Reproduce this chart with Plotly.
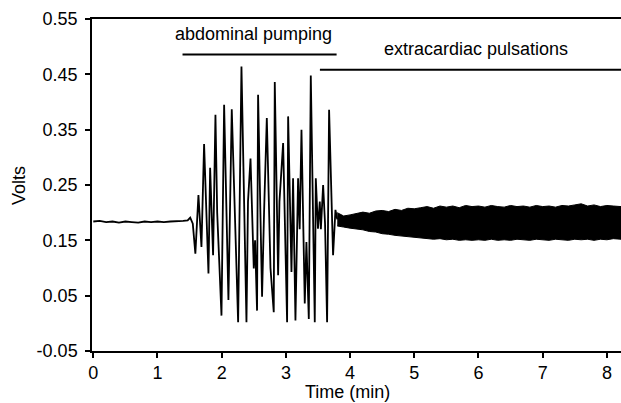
import plotly.graph_objects as go

# ---- data ----
# resting baseline (time in min, volts)
base_t = [0.0, 0.1, 0.2, 0.3, 0.4, 0.5, 0.6, 0.7, 0.8, 0.9, 1.0, 1.1, 1.2, 1.3, 1.4, 1.47, 1.51]
base_v = [0.184, 0.185, 0.183, 0.184, 0.182, 0.184, 0.183, 0.182, 0.184, 0.183, 0.184, 0.183, 0.184, 0.184, 0.185, 0.186, 0.191]

# abdominal pumping oscillation (peaks / troughs)
pump_t = [1.55, 1.59, 1.638, 1.685, 1.726, 1.794, 1.82, 1.866, 1.903, 1.93, 1.997, 2.038, 2.105, 2.13,
          2.157, 2.256, 2.308, 2.386, 2.41, 2.449, 2.50, 2.52, 2.551, 2.567, 2.629, 2.66, 2.703, 2.76,
          2.811, 2.827, 2.879, 2.90, 2.957, 3.019, 3.035, 3.087, 3.112, 3.149, 3.19, 3.215, 3.243,
          3.294, 3.32, 3.357, 3.388, 3.45, 3.466, 3.50, 3.528, 3.545, 3.58, 3.61, 3.642, 3.673,
          3.735, 3.772, 3.80]
pump_v = [0.180, 0.126, 0.232, 0.138, 0.324, 0.090, 0.281, 0.123, 0.377, 0.200, 0.014, 0.395, 0.042, 0.180,
          0.387, 0.002, 0.464, 0.002, 0.220, 0.298, 0.099, 0.150, 0.023, 0.413, 0.048, 0.200, 0.371, 0.100,
          0.020, 0.436, 0.087, 0.220, 0.326, 0.002, 0.374, 0.093, 0.262, 0.005, 0.262, 0.170, 0.350,
          0.036, 0.147, 0.008, 0.448, 0.002, 0.262, 0.171, 0.220, 0.170, 0.250, 0.180, 0.002, 0.386,
          0.123, 0.205, 0.188]

# extracardiac pulsations: upper / lower envelope of the dense trace
puls_t = [3.8, 3.9, 4.0, 4.1, 4.2, 4.3, 4.4, 4.5, 4.6, 4.7, 4.8, 4.9, 5.0, 5.1, 5.2, 5.3, 5.4, 5.5,
          5.6, 5.7, 5.8, 5.9, 6.0, 6.1, 6.2, 6.3, 6.4, 6.5, 6.6, 6.7, 6.8, 6.9, 7.0, 7.1, 7.2, 7.3,
          7.4, 7.5, 7.6, 7.7, 7.8, 7.9, 8.0, 8.1, 8.22]
puls_hi = [0.200, 0.194, 0.196, 0.198, 0.201, 0.199, 0.203, 0.204, 0.202, 0.206, 0.204, 0.208, 0.207,
           0.209, 0.211, 0.208, 0.212, 0.210, 0.212, 0.209, 0.213, 0.211, 0.212, 0.210, 0.213, 0.211,
           0.210, 0.213, 0.211, 0.212, 0.210, 0.213, 0.211, 0.212, 0.210, 0.213, 0.212, 0.214, 0.216,
           0.212, 0.214, 0.211, 0.213, 0.212, 0.211]
puls_lo = [0.176, 0.174, 0.172, 0.170, 0.169, 0.166, 0.165, 0.162, 0.161, 0.159, 0.158, 0.156, 0.155,
           0.154, 0.153, 0.152, 0.153, 0.151, 0.152, 0.150, 0.151, 0.150, 0.151, 0.150, 0.152, 0.150,
           0.151, 0.150, 0.152, 0.151, 0.150, 0.152, 0.151, 0.150, 0.152, 0.151, 0.150, 0.152, 0.151,
           0.152, 0.150, 0.152, 0.151, 0.153, 0.152]

x_ticks = [0, 1, 2, 3, 4, 5, 6, 7, 8]
y_ticks = [-0.05, 0.05, 0.15, 0.25, 0.35, 0.45, 0.55]
y_tick_text = ["-0.05", "0.05", "0.15", "0.25", "0.35", "0.45", "0.55"]

FONT = "Liberation Sans, Arial, sans-serif"
FS = 18

fig = go.Figure()
fig.add_trace(go.Scatter(x=base_t + pump_t, y=base_v + pump_v, mode="lines",
                         line=dict(color="black", width=1.8), hoverinfo="skip"))
fig.add_trace(go.Scatter(x=puls_t + puls_t[::-1], y=puls_hi + puls_lo[::-1], mode="lines",
                         fill="toself", fillcolor="black",
                         line=dict(color="black", width=1), hoverinfo="skip"))

fig.update_layout(
    width=621, height=403,
    margin=dict(l=92, r=0, t=19, b=52),
    paper_bgcolor="white", plot_bgcolor="white",
    showlegend=False,
    font=dict(family=FONT, size=FS, color="black"),
    xaxis=dict(range=[-0.02, 8.22], tickvals=x_ticks, ticks="outside", ticklen=5, tickwidth=1.5,
               tickcolor="black", showline=True, linecolor="black", linewidth=1.5, mirror=True,
               showgrid=False, zeroline=False, tickfont=dict(size=FS), automargin=False),
    yaxis=dict(range=[-0.05, 0.55], tickvals=y_ticks, ticktext=y_tick_text, ticks="outside",
               ticklen=5, tickwidth=1.5, tickcolor="black", showline=True, linecolor="black",
               linewidth=1.5, showgrid=False, zeroline=False, tickfont=dict(size=FS),
               ticklabelstandoff=4, automargin=False),
    shapes=[
        dict(type="line", xref="x", yref="y", x0=1.39, x1=3.79, y0=0.486, y1=0.486,
             line=dict(color="black", width=2)),
        dict(type="line", xref="x", yref="y", x0=3.53, x1=8.22, y0=0.4585, y1=0.4585,
             line=dict(color="black", width=2)),
    ],
    annotations=[
        dict(text="abdominal pumping", x=2.5, y=0.522, xref="x", yref="y", showarrow=False,
             font=dict(size=FS)),
        dict(text="extracardiac pulsations", x=5.966, y=0.495, xref="x", yref="y", showarrow=False,
             font=dict(size=FS)),
        dict(text="Volts", textangle=-90, xref="paper", yref="paper", x=-0.138, y=0.5,
             xanchor="center", yanchor="middle", showarrow=False, font=dict(size=FS)),
        dict(text="Time (min)", xref="x", yref="paper", x=3.96, y=0, yshift=-41,
             xanchor="center", yanchor="middle", showarrow=False, font=dict(size=FS)),
    ],
)

fig.write_html("out.html", config={"displayModeBar": False},
               post_script="document.body.style.margin='0';document.body.style.overflow='hidden';")
